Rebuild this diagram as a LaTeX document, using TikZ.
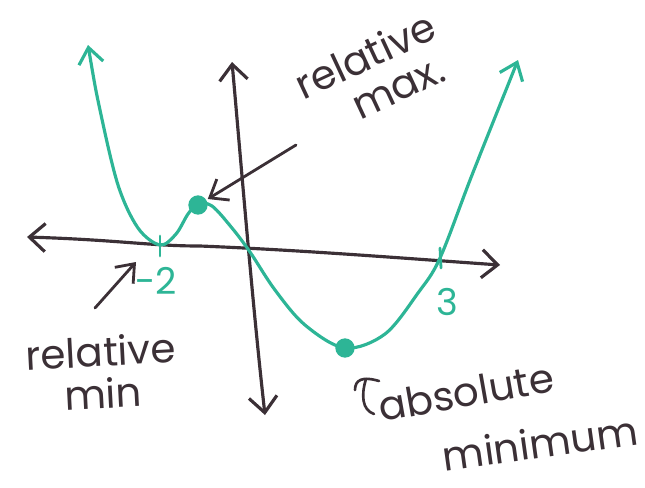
\documentclass[tikz,border=0pt]{standalone}
\usepackage{fontspec}
\setmainfont{Poppins}
\usetikzlibrary{arrows.meta,calc}
\definecolor{ink}{HTML}{3B3036}
\definecolor{teal}{HTML}{2DB596}
\tikzset{
  axis/.style={ink, line width=1.8pt, line cap=round, {Straight Barb[length=9pt,width=16pt]}-{Straight Barb[length=9pt,width=16pt]}},
  curve/.style={teal, line width=1.8pt, line cap=round, {Straight Barb[length=9pt,width=14pt]}-{Straight Barb[length=9pt,width=14pt]}},
  pointer/.style={ink, line width=1.6pt, line cap=round, -{Straight Barb[length=9pt,width=14pt]}},
  dot/.style={circle, fill=teal, inner sep=0pt, minimum size=11pt},
  hand/.style={ink, font=\fontsize{23}{24}\selectfont, inner sep=0pt, align=center},
  num/.style={teal, font=\fontsize{21}{22}\selectfont, inner sep=0pt},
  tick/.style={teal, line width=1.6pt, line cap=round}
}
\begin{document}
\begin{tikzpicture}[x=0.02cm, y=-0.02cm]
\useasboundingbox (0,0) rectangle (645,487);
% axes
\coordinate (xl) at (27,237);
\coordinate (xr) at (500,265);
\coordinate (yt) at (232,62);
\coordinate (yb) at (265,415);
\draw[axis] (xl) .. controls (120,240) and (150,246) .. (200,246) .. controls (300,250) and (400,258) .. (xr);
\draw[axis] (yb) .. controls (252,300) and (240,150) .. (yt);
% curve
\draw[curve] plot[smooth, tension=0.55] coordinates {(88,45) (100,110) (118,185) (138,228) (160,245) (176,234) (188,214) (198,204) (212,206) (232,228) (250,252) (275,290) (305,325) (345,348) (385,334) (418,293) (440,258) (472,175) (518,60)};
% ticks
\draw[tick] (160,236) -- (160,256);
\draw[tick] (440,248) -- (441,268);
% dots
\node[dot] (max) at (198,205) {};
\node[dot] (min) at (345,348) {};
% labels
\node[num] (m2) at (156,281) {-2};
\node[num] (n3) at (447,302) {3};
\node[hand, rotate=25] (relmax) at (374,74) {relative\\\hspace*{0.8em}max.};
\node[hand, rotate=3] (relmin) at (102,372) {relative\\min};
\node[hand, rotate=10] (abs) at (466,392) {absolute};
\node[hand, rotate=8] (mini) at (540,443) {minimum};
% pointers
\coordinate (pmax) at (296,145);
\coordinate (pmin) at (95,308);
\coordinate (emin) at (136,262);
\draw[pointer] (pmax) -- ($(pmax)!0.9!(max)$);
\draw[pointer] (pmin) -- (emin);
% hook before absolute
\draw[ink, line width=1.5pt, line cap=round] (355,390) .. controls (355,380) and (362,376) .. (379,381);
\draw[ink, line width=1.5pt, line cap=round] (366,379) .. controls (361,395) and (362,410) .. (374,414);
\end{tikzpicture}
\end{document}
